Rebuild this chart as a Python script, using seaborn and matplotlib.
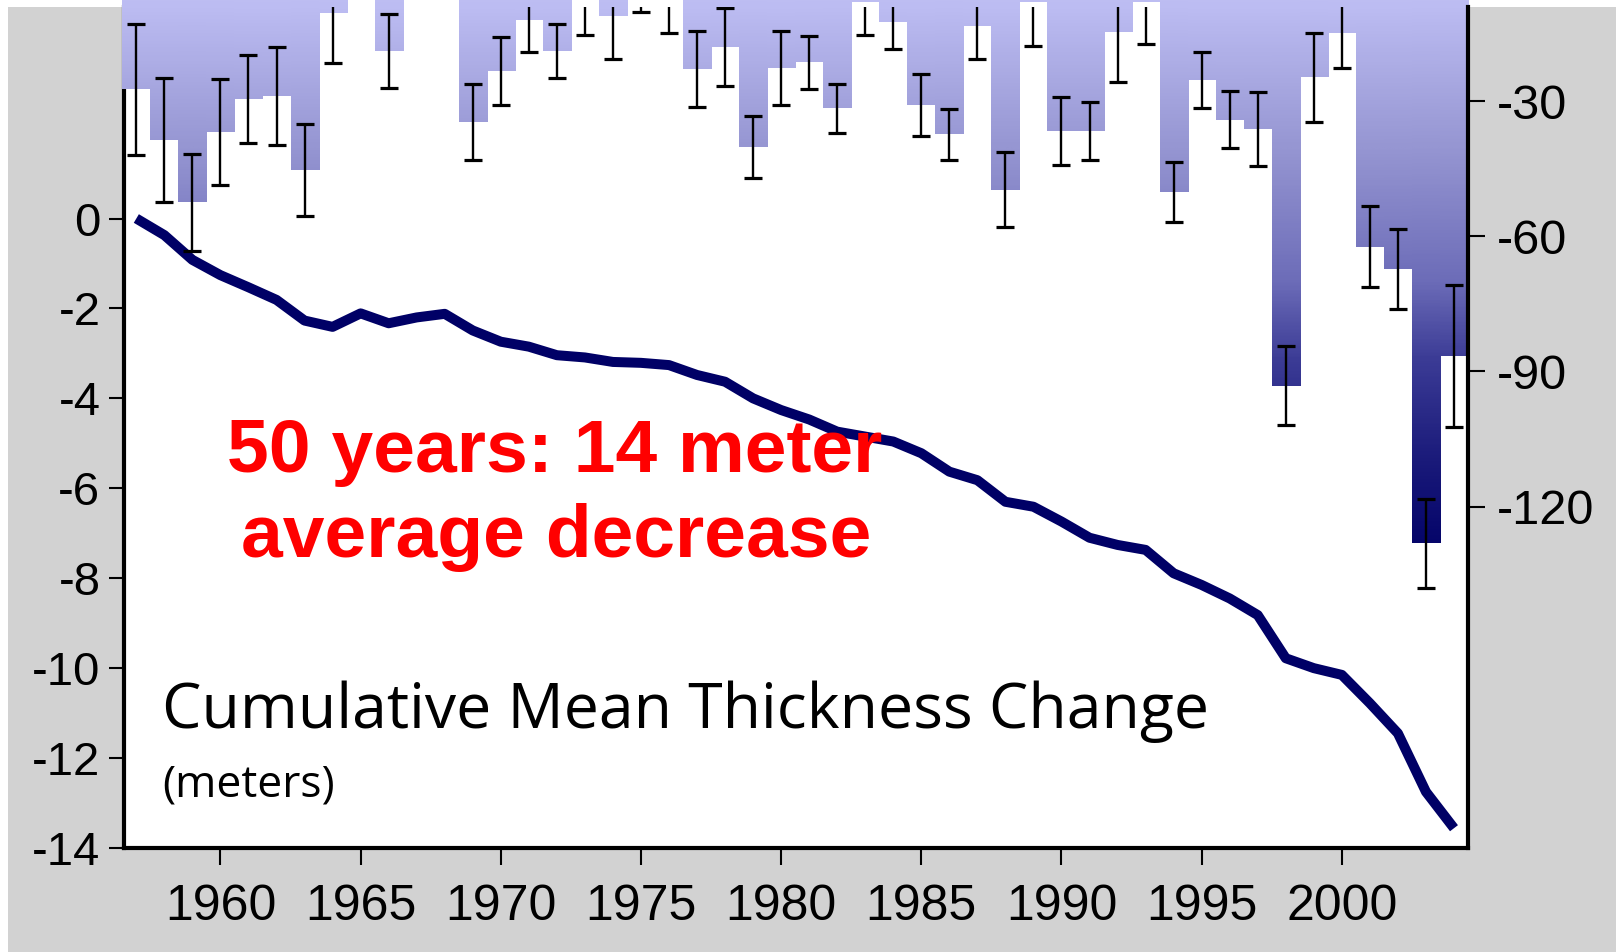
import numpy as np
import pandas as pd
import matplotlib
matplotlib.use("Agg")
import matplotlib.pyplot as plt
import seaborn as sns
from matplotlib.colors import LinearSegmentedColormap
from matplotlib.patches import Rectangle

# ---- data -------------------------------------------------------------
years = list(range(1957, 2005))

# annual mean balance (cm), one value per year
annual_balance = [
    -27.4, -38.7, -52.5, -36.9, -29.5, -28.8, -45.3, -10.5, 30.0, -18.8,
    13.0, 8.0, -34.6, -23.3, -11.9, -18.8, -6.0, -11.1, -2.0, -5.0,
    -22.8, -18.0, -40.2, -22.6, -21.4, -31.6, -8.0, -12.5, -30.8, -37.4,
    -13.3, -49.7, -8.0, -36.6, -36.6, -14.6, -8.0, -50.2, -25.3, -34.1,
    -36.1, -93.2, -24.7, -14.8, -62.3, -67.2, -128.2, -86.6,
]

# uncertainty of each annual value (cm)
annual_error = [
    14.5, 13.8, 10.7, 11.7, 9.8, 10.9, 10.2, 11.1, 10.0, 8.2,
    8.0, 8.0, 8.5, 7.5, 7.1, 6.0, 9.3, 9.5, 8.3, 9.9,
    8.4, 8.6, 6.8, 8.2, 5.9, 5.5, 7.3, 5.9, 6.9, 5.6,
    7.3, 8.3, 9.7, 7.5, 6.4, 11.2, 9.3, 6.7, 6.3, 6.4,
    8.2, 8.8, 9.9, 7.9, 9.0, 8.9, 9.9, 15.8,
]

# cumulative mean thickness change (m)
cumulative = [
    0.00, -0.37, -0.92, -1.26, -1.53, -1.81, -2.27, -2.41, -2.11, -2.33,
    -2.20, -2.12, -2.49, -2.74, -2.85, -3.04, -3.09, -3.19, -3.21, -3.26,
    -3.48, -3.63, -4.00, -4.26, -4.47, -4.74, -4.85, -4.96, -5.22, -5.63,
    -5.82, -6.30, -6.41, -6.74, -7.10, -7.26, -7.37, -7.89, -8.15, -8.45,
    -8.82, -9.78, -10.00, -10.15, -10.78, -11.45, -12.75, -13.56,
]

year_ticks = [1960, 1965, 1970, 1975, 1980, 1985, 1990, 1995, 2000]
left_ticks = [0, -2, -4, -6, -8, -10, -12, -14]
right_ticks = [-30, -60, -90, -120]

title_text = "Cumulative Mean Thickness Change"
unit_text = "(meters)"
note_lines = ["50 years: 14 meter", "average decrease"]

# ---- style --------------------------------------------------------------
sns.set_style("ticks")
plt.rcParams["font.family"] = ["Liberation Sans", "DejaVu Sans"]
plt.rcParams["axes.unicode_minus"] = False

W, H = 1616, 952
fig = plt.figure(figsize=(W / 100, H / 100), dpi=100, facecolor="white")

# grey panel behind the plot (thin white margin on top and left)
fig.patches.append(Rectangle((8 / W, 0), 1 - 8 / W, 1 - 6.5 / H,
                             transform=fig.transFigure, facecolor="#d2d2d2",
                             edgecolor="none", zorder=-10))

ax = fig.add_axes([124 / W, 1 - 848 / H, (1468 - 124) / W, (848 - 6.5) / H])
ax.set_facecolor("white")
ax2 = ax.twinx()

# ---- annual bars with vertical gradient -----------------------------------
df = pd.DataFrame({"year": years, "balance": annual_balance, "err": annual_error})
sns.barplot(data=df, x="year", y="balance", native_scale=True, width=1.0,
            errorbar=None, color="#9c9cdc", linewidth=0, ax=ax2)

stops = [(-200, "#000060"), (-128, "#05056a"), (-110, "#1a1a7a"),
         (-87, "#3c3c96"), (-70, "#6c6cb8"), (-40, "#9696d2"), (-9, "#bcbcf2"),
         (0, "#c2c2f6")]
vmin, vmax = stops[0][0], stops[-1][0]
cmap = LinearSegmentedColormap.from_list(
    "ice", [((v - vmin) / (vmax - vmin), c) for v, c in stops])
grad = np.linspace(0, 1, 600).reshape(-1, 1)

for bar in list(ax2.patches):
    x0 = bar.get_x()
    x1 = x0 + bar.get_width()
    bar.set_facecolor("none")
    bar.set_edgecolor("none")
    im = ax2.imshow(grad, extent=[x0, x1, vmin, vmax], origin="lower",
                    aspect="auto", cmap=cmap, vmin=0, vmax=1,
                    interpolation="bilinear", zorder=1)
    im.set_clip_path(bar)

ax2.errorbar(years, annual_balance, yerr=annual_error, fmt="none",
             ecolor="black", elinewidth=1.7, capsize=6.5, capthick=2.3,
             zorder=3)

# ---- cumulative line --------------------------------------------------------
sns.lineplot(x=years, y=cumulative, ax=ax, color="#000066", linewidth=7.2,
             solid_capstyle="butt", solid_joinstyle="round", zorder=2)

# ---- axes ---------------------------------------------------------------------
ax.set_xlim(1956.56, 2004.5)
ax.set_ylim(-14.0, 4.715)
ax2.set_ylim(-195.8, -9.0)
ax2.set_xlim(1956.56, 2004.5)

ax.set_xticks(year_ticks)
ax.set_xticklabels([str(y) for y in year_ticks])
ax.set_yticks(left_ticks)
ax.set_yticklabels([str(v) for v in left_ticks])
ax2.set_yticks(right_ticks)
ax2.set_yticklabels([str(v) for v in right_ticks])
ax.set_xlabel("")
ax.set_ylabel("")
ax2.set_xlabel("")
ax2.set_ylabel("")
ax.grid(False)
ax2.grid(False)

for name, sp in ax.spines.items():
    sp.set_visible(name in ("left", "bottom"))
    sp.set_linewidth(3)
    sp.set_color("black")
for name, sp in ax2.spines.items():
    sp.set_visible(name == "right")
    sp.set_linewidth(3)
    sp.set_color("black")

ax.tick_params(axis="y", direction="out", length=11, width=1.5,
               labelsize=34, pad=6, colors="black")
ax.tick_params(axis="x", direction="out", length=12, width=1.5,
               labelsize=36, pad=14, colors="black")
ax2.tick_params(axis="y", direction="out", length=12, width=1.5,
                labelsize=35, pad=9, colors="black")

# ---- texts ------------------------------------------------------------------------
fig.text(162 / W, 1 - 728 / H, title_text, fontsize=45, family=["Open Sans", "DejaVu Sans"],
         color="black", ha="left", va="baseline")
fig.text(162 / W, 1 - 796 / H, unit_text, fontsize=32, family=["Open Sans", "DejaVu Sans"],
         color="black", ha="left", va="baseline")
fig.text(555 / W, 1 - 472 / H, note_lines[0], fontsize=54, fontweight="bold",
         color="#ff0000", ha="center", va="baseline", zorder=10)
fig.text(556 / W, 1 - 556.5 / H, note_lines[1], fontsize=54, fontweight="bold",
         color="#ff0000", ha="center", va="baseline", zorder=10)

fig.savefig("out.png", dpi=100, facecolor=fig.get_facecolor())
